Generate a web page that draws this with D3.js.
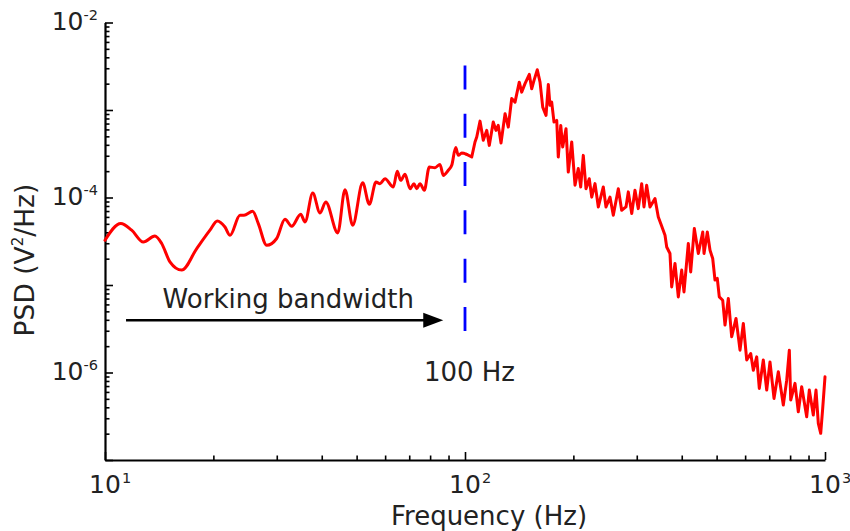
<!DOCTYPE html>
<html>
<head>
<meta charset="utf-8">
<script src="https://cdn.jsdelivr.net/npm/d3@7"></script>
<style>
  html, body { margin: 0; padding: 0; background: #fff; }
  svg { display: block; font-family: "DejaVu Sans", Verdana, sans-serif; }
</style>
</head>
<body>
<svg id="chart" width="850" height="531"></svg>
<script>
// ---------------- data ----------------
const freqHz = [10, 11.06, 11.86, 12.78, 13.76, 14.37, 15.15, 16.33, 17.98, 19.57, 20.51, 21.54, 22.25, 23.71, 24.33, 25.72, 26.66, 28.13, 29.98,
  31.62, 33.01, 34.97, 35.94, 37.76, 39.56, 41.03, 44.31, 46.42, 48.76, 51.97, 54.22, 56.59, 58.06, 59.95, 63.21, 64.85, 66.28, 68.13, 70.35,
  72.18, 73.43, 74.99, 77.08, 79.59, 82.54, 85.22, 87.03, 89.86, 91.86, 94.23, 95.81, 97.91, 101.1, 104.4, 106.6, 107.8, 110.1, 112.4, 114.9,
  116.8, 119.8, 121.9, 123.7, 125.9, 129.2, 131.9, 134.8, 137.7, 141.5, 143.7, 146.8, 150.9, 153.2, 155.5, 158.8, 161.6, 164.4, 167.9, 170.4,
  172.2, 174.1, 176.7, 179.8, 181.6, 184.5, 186.8, 190.8, 193.6, 197.9, 202.1, 206.4, 209.6, 213.1, 216.8, 221.4, 224.9, 229.7, 234.6, 242.2,
  246.4, 252.8, 258.2, 266.6, 272.4, 280.0, 284.2, 290.5, 296.6, 302.9, 309.6, 314.2, 319.6, 326.5, 337.1, 344.3, 349.7, 359.4, 363.3, 371.0,
  375.1, 383.1, 391.3, 399.9, 405.8, 417.2, 423.6, 433.5, 444.8, 457.5, 461.3, 471.1, 479.3, 487.6, 494.8, 502.1, 508.6, 519.8, 527.5, 538.8,
  550.6, 566.0, 580.7, 593.1, 606.1, 621.8, 632.2, 646.1, 656.9, 673.9, 688.8, 703.4, 721.7, 741.9, 766.0, 782.8, 796.0, 803.1, 825.4, 843.0,
  861.5, 889.5, 904.5, 927.9, 944.1, 958.1, 972.9, 985.4, 1000];

const psdV2Hz = [3.24e-5, 5.04e-5, 4.23e-5, 3.10e-5, 3.63e-5, 2.98e-5, 1.84e-5, 1.48e-5, 2.61e-5, 4.23e-5, 5.40e-5, 4.60e-5, 3.70e-5, 6.27e-5, 6.27e-5, 6.95e-5, 5.04e-5, 2.84e-5, 3.40e-5,
  5.64e-5, 4.69e-5, 6.43e-5, 5.25e-5, 1.125e-4, 6.65e-5, 8.89e-5, 3.94e-5, 1.23e-4, 4.82e-5, 1.47e-4, 8.36e-5, 1.50e-4, 1.44e-4, 1.64e-4, 1.32e-4, 1.99e-4, 1.57e-4, 1.84e-4, 1.26e-4,
  1.44e-4, 1.26e-4, 1.44e-4, 1.21e-4, 2.23e-4, 2.19e-4, 2.39e-4, 1.79e-4, 2.05e-4, 2.33e-4, 3.72e-4, 3.03e-4, 3.22e-4, 3.11e-4, 2.90e-4, 4.31e-4, 4.91e-4, 7.46e-4, 4.50e-4, 5.85e-4,
  3.94e-4, 7.28e-4, 5.85e-4, 6.67e-4, 4.19e-4, 9.08e-4, 6.38e-4, 1.35e-3, 1.23e-3, 2.08e-3, 1.60e-3, 2.00e-3, 2.55e-3, 1.75e-3, 2.18e-3, 2.88e-3, 2.08e-3, 1.08e-3, 8.67e-4, 1.96e-3,
  1.13e-3, 1.23e-3, 7.28e-4, 7.60e-4, 2.90e-4, 6.67e-4, 3.77e-4, 6.12e-4, 1.95e-4, 4.31e-4, 1.38e-4, 2.14e-4, 1.32e-4, 3.03e-4, 1.26e-4, 1.64e-4, 1.01e-4, 1.44e-4, 7.80e-5, 1.32e-4,
  7.80e-5, 1.01e-4, 6.27e-5, 1.26e-4, 7.14e-5, 7.80e-5, 1.16e-4, 6.55e-5, 1.21e-4, 7.46e-5, 1.44e-4, 7.80e-5, 1.38e-4, 7.80e-5, 9.71e-5, 5.98e-5, 5.04e-5, 3.70e-5, 2.72e-5, 2.29e-5,
  9.51e-6, 1.76e-5, 7.31e-6, 1.48e-5, 8.34e-6, 2.98e-5, 1.41e-5, 4.42e-5, 2.29e-5, 4.04e-5, 2.29e-5, 4.04e-5, 2.49e-5, 2.01e-5, 1.14e-5, 1.19e-5, 7.31e-6, 6.70e-6, 3.48e-6, 7.01e-6,
  2.56e-6, 4.15e-6, 1.80e-6, 3.64e-6, 1.39e-6, 1.65e-6, 1.06e-6, 1.51e-6, 6.58e-7, 1.39e-6, 6.30e-7, 1.32e-6, 5.06e-7, 1.02e-6, 4.25e-7, 8.18e-7, 1.80e-6, 4.84e-7, 7.52e-7, 3.56e-7,
  6.87e-7, 3.12e-7, 6.30e-7, 3.27e-7, 6.30e-7, 2.62e-7, 2.02e-7, 3.89e-7, 8.93e-7];

const xDomain = [10, 1000];
const yDomain = [1e-7, 1e-2];
const xTickExponents = [1, 2, 3];
const yTickExponents = [-2, -4, -6];
const xLabel = "Frequency (Hz)";
const cutoffHz = 100;
const cutoffSpan = [2.97e-6, 3.23e-3];
const arrowFrom = [11.44, 3.96e-6];
const arrowTo = [87.0, 3.96e-6];
const bandText = { text: "Working bandwidth", f: 32.3, v: 5.43e-6 };
const cutoffText = { text: "100 Hz", f: 102.9, v: 8.04e-7 };
const smoothUpToHz = 100;   // low-frequency part is smooth, above is noisy

// ---------------- layout ----------------
const W = 850, H = 531;
const margin = { left: 105, right: 25, top: 22.5, bottom: 71 };
const svg = d3.select("#chart");
const textColor = "#222";

const x = d3.scaleLog().domain(xDomain).range([margin.left, W - margin.right]);
const y = d3.scaleLog().domain(yDomain).range([H - margin.bottom, margin.top]);

const decadesX = d3.range(Math.log10(xDomain[0]), Math.log10(xDomain[1]) + 1).map(e => Math.pow(10, e));
const decadesY = d3.range(Math.log10(yDomain[0]), Math.log10(yDomain[1]) + 1).map(e => Math.pow(10, e));
const minorX = [], minorY = [];
decadesX.slice(0, -1).forEach(d => { for (let k = 2; k <= 9; k++) minorX.push(d * k); });
decadesY.slice(0, -1).forEach(d => { for (let k = 2; k <= 9; k++) minorY.push(d * k); });

function styleAxis(g) {
  g.selectAll("path.domain").attr("stroke", "#000").attr("stroke-width", 2.2);
  g.selectAll(".tick line").attr("stroke", "#000").attr("stroke-width", 1.6);
  g.selectAll(".tick text").remove();
}

// x axis
svg.append("g").attr("transform", `translate(0,${H - margin.bottom})`)
  .call(d3.axisBottom(x).tickValues(minorX).tickSizeInner(-4.5).tickSizeOuter(0).tickFormat(""))
  .call(styleAxis).select("path.domain").remove();
svg.append("g").attr("transform", `translate(0,${H - margin.bottom})`)
  .call(d3.axisBottom(x).tickValues(decadesX).tickSizeInner(-8).tickSizeOuter(0).tickFormat(""))
  .call(styleAxis);

// y axis
svg.append("g").attr("transform", `translate(${margin.left},0)`)
  .call(d3.axisLeft(y).tickValues(minorY).tickSizeInner(-4.5).tickSizeOuter(0).tickFormat(""))
  .call(styleAxis).select("path.domain").remove();
svg.append("g").attr("transform", `translate(${margin.left},0)`)
  .call(d3.axisLeft(y).tickValues(decadesY).tickSizeInner(-8).tickSizeOuter(0).tickFormat(""))
  .call(styleAxis);

// x tick labels
xTickExponents.forEach(e => {
  const px = x(Math.pow(10, e));
  const t = svg.append("text").attr("x", px).attr("y", H - margin.bottom + 33)
    .attr("text-anchor", "middle").attr("font-size", 25).attr("fill", textColor).text("10");
  const w = t.node().getComputedTextLength();
  svg.append("text").attr("x", px + w / 2 + 1).attr("y", H - margin.bottom + 23)
    .attr("font-size", 14.5).attr("fill", textColor).text(String(e));
});

// y tick labels
yTickExponents.forEach(e => {
  const py = y(Math.pow(10, e));
  const t = svg.append("text").attr("x", margin.left - 7).attr("y", py + 7)
    .attr("text-anchor", "end").attr("font-size", 25).attr("fill", textColor);
  t.append("tspan").text("10");
  t.append("tspan").attr("font-size", 14.5).attr("dy", -10).text(String(e));
});

// axis titles
svg.append("text").attr("x", 489).attr("y", H - 6)
  .attr("text-anchor", "middle").attr("font-size", 26).attr("fill", textColor).text(xLabel);

const yl = svg.append("text").attr("transform", `translate(34,${(y(1e-4) + y(1e-6)) / 2 - 25}) rotate(-90)`)
  .attr("text-anchor", "middle").attr("font-size", 26.5).attr("fill", textColor);
yl.append("tspan").text("PSD (V");
yl.append("tspan").attr("font-size", 15).attr("dy", -11).text("2");
yl.append("tspan").attr("dy", 11).text("/Hz)");

// PSD curve: smooth low band, raw high band
const pts = freqHz.map((f, i) => [f, psdV2Hz[i]]);
const splitIdx = pts.findIndex(d => d[0] > smoothUpToHz);
const lowPts = pts.slice(0, splitIdx + 1);
const highPts = pts.slice(splitIdx);
const lineSmooth = d3.line().x(d => x(d[0])).y(d => y(d[1])).curve(d3.curveMonotoneX);
const lineRaw = d3.line().x(d => x(d[0])).y(d => y(d[1])).curve(d3.curveLinear);
[[lowPts, lineSmooth], [highPts, lineRaw]].forEach(([data, gen]) => {
  svg.append("path").datum(data).attr("d", gen)
    .attr("fill", "none").attr("stroke", "#ff0000").attr("stroke-width", 3)
    .attr("stroke-linejoin", "round").attr("stroke-linecap", "round");
});

// cutoff dashed line
svg.append("line")
  .attr("x1", x(cutoffHz)).attr("x2", x(cutoffHz))
  .attr("y1", y(cutoffSpan[1])).attr("y2", y(cutoffSpan[0]))
  .attr("stroke", "#0000ff").attr("stroke-width", 2.8).attr("stroke-dasharray", "24,24.3");

// arrow
const ax0 = x(arrowFrom[0]), ax1 = x(arrowTo[0]), ay = y(arrowFrom[1]);
svg.append("line").attr("x1", ax0).attr("x2", ax1 - 12).attr("y1", ay).attr("y2", ay)
  .attr("stroke", "#000").attr("stroke-width", 2.5);
svg.append("path")
  .attr("d", `M${ax1},${ay} L${ax1 - 20},${ay - 7.5} L${ax1 - 20},${ay + 7.5} Z`)
  .attr("fill", "#000");

// annotation texts
svg.append("text").attr("x", x(bandText.f)).attr("y", y(bandText.v))
  .attr("text-anchor", "middle").attr("font-size", 26).attr("fill", textColor).text(bandText.text);
svg.append("text").attr("x", x(cutoffText.f)).attr("y", y(cutoffText.v))
  .attr("text-anchor", "middle").attr("font-size", 26).attr("fill", textColor).text(cutoffText.text);
</script>
</body>
</html>
